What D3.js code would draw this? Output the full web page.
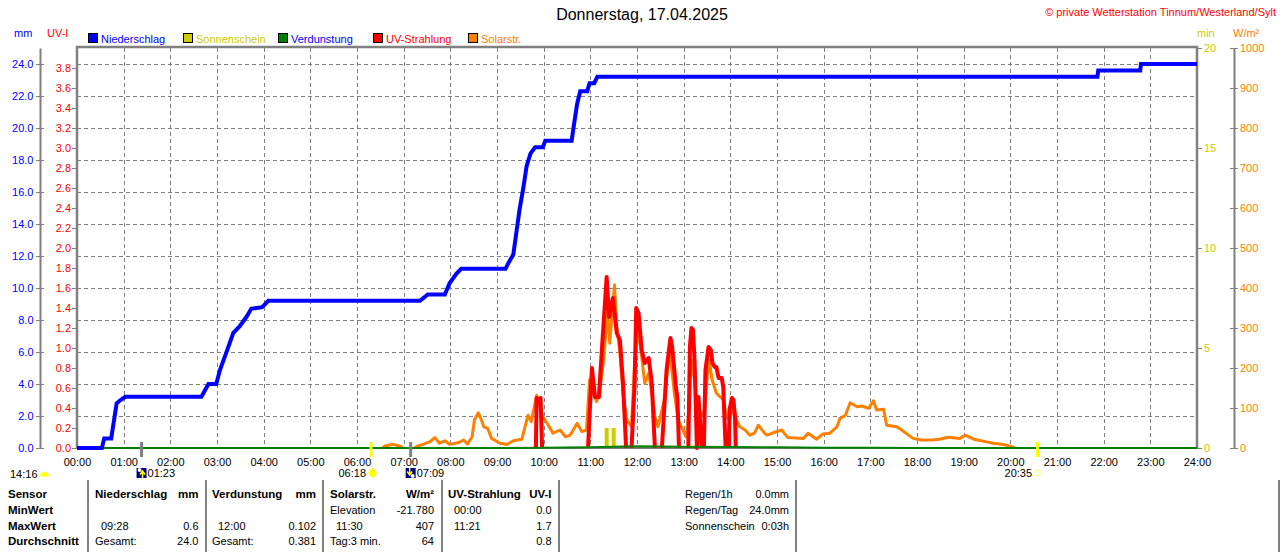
<!DOCTYPE html>
<html>
<head>
<meta charset="utf-8">
<script src="https://cdn.jsdelivr.net/npm/d3@7"></script>
<style>
  body { margin: 0; background: #fff; }
  svg { display: block; }
</style>
</head>
<body>
<svg id="chart" width="1280" height="552"></svg>
<script>
const title = 'Donnerstag, 17.04.2025'
const copyright = '\u00a9 private Wetterstation Tinnum/Westerland/Sylt'

const legendNames = ['Niederschlag', 'Sonnenschein', 'Verdunstung', 'UV-Strahlung', 'Solarstr.']

// cumulative rain, mm
const rainTimes = ['00:00','00:32','00:35','00:44','00:51','00:56','01:02','02:40','02:49','02:59',
  '03:04','03:13','03:21','03:29','03:38','03:44','03:58','04:06','07:21','07:31',
  '07:53','07:59','08:08','08:14','09:11','09:14','09:21','09:25','09:29','09:34',
  '09:38','09:43','09:49','09:59','10:02','10:36','10:38','10:43','10:47','10:56',
  '10:59','11:05','11:09','21:52','21:53','22:47','22:48','24:00']
const rainValues = [0, 0, 0.6, 0.6, 2.8, 3.0, 3.2, 3.2, 4.0, 4.0,
  4.9, 6.1, 7.2, 7.6, 8.2, 8.7, 8.8, 9.2, 9.2, 9.6,
  9.6, 10.3, 10.9, 11.2, 11.2, 11.5, 12.1, 13.5, 14.9, 16.3,
  17.6, 18.4, 18.8, 18.8, 19.2, 19.2, 19.9, 21.5, 22.3, 22.3,
  22.8, 22.8, 23.2, 23.2, 23.6, 23.6, 24.0, 24.0]

// solar radiation, W/m²
const solarTimes = ['06:33','06:36','06:46','06:55','06:59','07:05','07:14','07:18','07:25','07:34',
  '07:40','07:46','07:53','07:59','08:10','08:17','08:22','08:28','08:31','08:36',
  '08:40','08:43','08:48','08:53','09:04','09:13','09:21','09:32','09:36','09:40',
  '09:44','09:51','09:55','09:59','10:06','10:12','10:21','10:28','10:34','10:43',
  '10:49','10:55','10:59','11:04','11:08','11:12','11:17','11:22','11:25','11:31',
  '11:34','11:38','11:42','11:47','11:53','11:57','12:02','12:06','12:10','12:15',
  '12:21','12:23','12:27','12:36','12:41','12:44','12:48','12:53','12:57','13:03',
  '13:06','13:10','13:14','13:18','13:22','13:27','13:31','13:33','13:36','13:42',
  '13:47','13:51','13:55','13:59','14:04','14:08','14:12','14:19','14:25','14:31',
  '14:36','14:44','14:47','14:55','15:06','15:14','15:34','15:40','15:51','15:59',
  '16:08','16:17','16:21','16:28','16:34','16:43','16:49','16:58','17:04','17:08',
  '17:17','17:21','17:34','17:43','17:55','18:06','18:19','18:29','18:40','18:55',
  '19:02','19:13','19:28','19:38','19:51','20:02','20:06']
const solarValues = [0, 5, 9, 5, 0, null, 0, 5, 9, 16,
  26, 12, 18, 9, 13, 20, 10, 28, 70, 88,
  70, 53, 49, 24, 12, 9, 18, 22, 53, 82,
  66, 132, 112, 78, 57, 37, 45, 28, 32, 62,
  41, 45, 170, 137, 116, 137, 220, 337, 262, 408,
  303, 237, 137, 70, 53, 220, 295, 228, 162, 187,
  112, 78, 53, 128, 237, 212, 137, 70, 53, 28,
  78, 220, 170, 78, 78, 95, 195, 220, 175, 137,
  128, 120, 78, 70, 103, 70, 53, 45, 32, 37,
  57, 37, 32, 38, 45, 26, 24, 37, 22, 35,
  37, 53, 74, 82, 113, 103, 105, 99, 118, 95,
  97, 57, 53, 41, 24, 20, 20, 22, 27, 24,
  32, 22, 16, 12, 9, 3, 0]

// UV index, null breaks the line
const uvTimes = ['09:50','09:51','09:54','09:56','09:58','10:30','10:57','11:02','11:06','11:11',
  '11:15','11:21','11:24','11:29','11:34','11:38','11:42','11:46','11:50','11:53',
  '11:57','11:59','12:02','12:06','12:10','12:15','12:19','12:23','12:28','12:32',
  '12:38','12:43','12:45','12:48','12:50','12:52','12:54','13:00','13:06','13:08',
  '13:10','13:12','13:14','13:15','13:17','13:19','13:21','13:23','13:25','13:26',
  '13:28','13:32','13:35','13:37','13:40','13:42','13:45','13:49','13:51','13:52',
  '13:54','13:56','13:58','13:59','14:02','14:04','14:06','14:07']
const uvValues = [0, 0.5, 0.45, 0.5, 0, null, 0, 0.8, 0.51, 0.51,
  1.0, 1.71, 1.31, 1.5, 1.15, 1.08, 0.65, 0, null, 0,
  0.65, 1.4, 1.35, 0.98, 0.85, 0.9, 0.65, 0, null, 0,
  0.78, 1.1, 1.02, 0.78, 0.61, 0.5, 0, null, 0, 1.01,
  1.2, 1.18, 0.88, 0.6, 0, 0.51, 0.28, 0, null, 0,
  0.78, 1.01, 0.98, 0.85, 0.81, 0.81, 0.7, 0.7, 0.6, 0.38,
  0, null, 0, 0.38, 0.5, 0.48, 0.31, 0]

// sunshine, minutes
const sunTimes = ['11:21', '11:30']
const sunValues = [1, 1]

// evaporation, mm
const evapTimes = ['00:00','09:00','10:00','11:00','12:00','13:00','14:00','15:00','16:00','17:00','18:00','24:00']
const evapValues = [0, 0, 0.02, 0.04, 0.102, 0.08, 0.06, 0.04, 0.02, 0.019, 0, 0]

const hourTicks = d3.range(0, 25)
const mmTicks = d3.range(0, 13).map(i => i * 2)
const uvTicks = d3.range(0, 20).map(i => i / 5)
const minTicks = [0, 5, 10, 15, 20]
const solarTicks = d3.range(0, 11).map(i => i * 100)

const markerTimes = ['01:23', '06:18', '07:09', '20:35']
const markerKinds = ['moonrise', 'sunrise', 'moonset', 'sunset']
const moonTime = '14:16'

const sensorRows = ['MinWert', 'MaxWert', 'Durchschnitt']
const rainStats = [['', ''], ['09:28', '0.6'], ['Gesamt:', '24.0']]
const evapStats = [['', ''], ['12:00', '0.102'], ['Gesamt:', '0.381']]
const solarStats = [['Elevation', '-21.780'], ['11:30', '407'], ['Tag:3 min.', '64']]
const uvStats = [['00:00', '0.0'], ['11:21', '1.7'], ['', '0.8']]
const summaryLabels = ['Regen/1h', 'Regen/Tag', 'Sonnenschein']
const summaryValues = ['0.0mm', '24.0mm', '0:03h']

const col = {
  rain: '#0000ff', sun: '#cccc00', evap: '#008000', uv: '#ff0000', solar: '#ff8000',
  grid: '#808080', frame: '#808080'
}
const legendColors = [col.rain, col.sun, col.evap, col.uv, col.solar]
const legendTextColors = [col.rain, col.sun, col.rain, col.uv, col.solar]
const font = '"Liberation Sans", Arial, sans-serif'

const parseTime = s => { const [h, m] = s.split(':').map(Number); return h + m / 60 }
const series = (times, values) => times.map((t, i) => ({ t: parseTime(t), v: values[i] }))

const svg = d3.select('#chart')
  .attr('font-family', font)
  .attr('font-size', 11)

const x = d3.scaleLinear().domain([0, 24]).range([77, 1197])
const yMm = d3.scaleLinear().domain([0, 25]).range([448, 48])
const yUv = d3.scaleLinear().domain([0, 4]).range([448, 48])
const yMin = d3.scaleLinear().domain([0, 20]).range([448, 48])
const ySolar = d3.scaleLinear().domain([0, 1000]).range([448, 48])

// title
svg.append('text').attr('x', 642).attr('y', 20).attr('text-anchor', 'middle')
  .attr('font-size', 16).text(title)
svg.append('text').attr('x', 1276).attr('y', 16).attr('text-anchor', 'end')
  .attr('fill', '#ff0000').attr('font-size', 11).text(copyright)

// unit labels
svg.append('text').attr('x', 14).attr('y', 37).attr('fill', col.rain).text('mm')
svg.append('text').attr('x', 47).attr('y', 37).attr('fill', col.uv).text('UV-I')
svg.append('text').attr('x', 1197).attr('y', 37).attr('fill', col.sun).text('min')
svg.append('text').attr('x', 1233).attr('y', 37).attr('fill', col.solar).text('W/m²')

// legend
const legendX = [88, 183, 278, 373, 468]
const lg = svg.append('g').selectAll('g').data(legendNames).join('g')
  .attr('transform', (d, i) => `translate(${legendX[i]},33)`)
lg.append('rect').attr('x', 0.5).attr('y', 0.5).attr('width', 9).attr('height', 9)
  .attr('fill', (d, i) => legendColors[i]).attr('stroke', '#000')
lg.append('text').attr('x', 13).attr('y', 9.5).attr('fill', (d, i) => legendTextColors[i]).text(d => d)

// grid
const grid = svg.append('g').attr('stroke', col.grid).attr('stroke-dasharray', '4,3').attr('stroke-width', 1)
grid.selectAll('.vg').data(hourTicks.slice(1, -1)).join('line')
  .attr('x1', d => Math.round(x(d)) + 0.5).attr('x2', d => Math.round(x(d)) + 0.5)
  .attr('y1', 48).attr('y2', 448)
grid.selectAll('.hg').data(mmTicks.slice(1)).join('line')
  .attr('x1', 77).attr('x2', 1197)
  .attr('y1', d => Math.round(yMm(d)) + 0.5).attr('y2', d => Math.round(yMm(d)) + 0.5)

// frame
svg.append('path').attr('d', `M${x(0)},448V47H${x(24)}V448`)
  .attr('fill', 'none').attr('stroke', col.frame).attr('stroke-width', 2.5)
svg.append('line').attr('x1', x(0)).attr('x2', x(24)).attr('y1', 448).attr('y2', 448)
  .attr('stroke', col.frame).attr('stroke-width', 2)

const lineOf = yScale => d3.line().defined(d => d.v != null).x(d => x(d.t)).y(d => yScale(d.v))

// solar
svg.append('path').datum(series(solarTimes, solarValues))
  .attr('d', lineOf(ySolar)).attr('fill', 'none').attr('stroke', col.solar)
  .attr('stroke-width', 3).attr('stroke-linejoin', 'round')

// UV
svg.append('path').datum(series(uvTimes, uvValues))
  .attr('d', lineOf(yUv)).attr('fill', 'none').attr('stroke', col.uv)
  .attr('stroke-width', 4).attr('stroke-linejoin', 'round')

// sunshine bars
svg.append('g').selectAll('rect').data(series(sunTimes, sunValues)).join('rect')
  .attr('x', d => x(d.t) - 2).attr('width', 4)
  .attr('y', d => yMin(d.v)).attr('height', d => yMin(0) - yMin(d.v) - 1)
  .attr('fill', col.sun)

// evaporation
svg.append('path').datum(series(evapTimes, evapValues))
  .attr('d', lineOf(yMm)).attr('fill', 'none').attr('stroke', col.evap).attr('stroke-width', 2)

// rain
svg.append('path').datum(series(rainTimes, rainValues))
  .attr('d', lineOf(yMm)).attr('fill', 'none').attr('stroke', col.rain)
  .attr('stroke-width', 4).attr('stroke-linejoin', 'miter')

// axes
const styleAxis = (g, textColor) => {
  g.attr('font-family', font).attr('font-size', 11)
  g.selectAll('.tick line').attr('stroke', col.frame)
  g.selectAll('.tick text').attr('fill', textColor)
}

svg.append('g').attr('transform', 'translate(40,0)')
  .call(d3.axisLeft(yMm).tickValues(mmTicks).tickFormat(d3.format('.1f'))
    .tickSizeInner(4).tickSizeOuter(0).tickPadding(2.5))
  .call(g => styleAxis(g, col.rain))
  .call(g => g.select('.domain').attr('stroke', col.frame).attr('stroke-width', 2))
  .call(g => g.selectAll('.tick line').attr('x1', 4))

svg.append('g').attr('transform', `translate(${x(0)},0)`)
  .call(d3.axisLeft(yUv).tickValues(uvTicks).tickFormat(d3.format('.1f'))
    .tickSizeInner(5).tickSizeOuter(0).tickPadding(1))
  .call(g => styleAxis(g, col.uv))
  .call(g => g.select('.domain').remove())

svg.append('g').attr('transform', `translate(${x(24)},0)`)
  .call(d3.axisRight(yMin).tickValues(minTicks).tickSizeInner(5).tickSizeOuter(0).tickPadding(2))
  .call(g => styleAxis(g, col.sun))
  .call(g => g.select('.domain').remove())

svg.append('g').attr('transform', 'translate(1234,0)')
  .call(d3.axisRight(ySolar).tickValues(solarTicks).tickFormat(d3.format('d'))
    .tickSizeInner(4).tickSizeOuter(0).tickPadding(2))
  .call(g => styleAxis(g, col.solar))
  .call(g => g.select('.domain').attr('stroke', col.frame).attr('stroke-width', 2))
  .call(g => g.selectAll('.tick line').attr('x1', -4))

svg.append('g').attr('transform', 'translate(0,448)')
  .call(d3.axisBottom(x).tickValues(hourTicks).tickFormat(d => String(d).padStart(2, '0') + ':00')
    .tickSize(0).tickPadding(10.5))
  .call(g => styleAxis(g, '#000'))
  .call(g => g.select('.domain').remove())

// sun / moon markers
const markers = svg.append('g')
markerTimes.forEach((s, i) => {
  const kind = markerKinds[i]
  const px = x(parseTime(s))
  const isSun = kind.startsWith('sun')
  markers.append('rect').attr('x', px - 1.5).attr('y', 442).attr('width', 3).attr('height', 15)
    .attr('fill', isSun ? '#ffff00' : col.frame)
  const g = markers.append('g').attr('transform', `translate(${px},473)`)
  if (kind === 'moonrise' || kind === 'moonset') {
    g.append('rect').attr('x', -5).attr('y', -5).attr('width', 10).attr('height', 10).attr('fill', '#000080')
    g.append('circle').attr('cx', kind === 'moonrise' ? -2 : 2).attr('cy', kind === 'moonrise' ? -3 : 3)
      .attr('r', 2).attr('fill', '#fff')
    const arrow = kind === 'moonrise' ? 'M1,5V-1M-1.5,1.5L1,-2L3.5,1.5' : 'M-1,-5V1M-3.5,-1.5L-1,2L1.5,-1.5'
    g.append('path').attr('d', arrow).attr('fill', 'none').attr('stroke', '#ffff00').attr('stroke-width', 1.5)
    g.append('text').attr('x', 6).attr('y', 4).text(s)
  } else if (kind === 'sunrise') {
    g.attr('transform', `translate(${px + 1.5},473)`)
    g.append('g').selectAll('line').data(d3.range(8)).join('line')
      .attr('x1', a => Math.cos(a * Math.PI / 4) * 2.5).attr('y1', a => Math.sin(a * Math.PI / 4) * 2.5)
      .attr('x2', a => Math.cos(a * Math.PI / 4) * 5).attr('y2', a => Math.sin(a * Math.PI / 4) * 5)
      .attr('stroke', '#ffff00').attr('stroke-width', 1.2)
    g.append('circle').attr('r', 3.2).attr('fill', '#ffff00')
    g.append('text').attr('x', -6.5).attr('y', 4).attr('text-anchor', 'end').text(s)
  } else {
    g.append('rect').attr('x', -2.5).attr('y', -2.5).attr('width', 5).attr('height', 5)
      .attr('fill', 'none').attr('stroke', '#ffff66').attr('stroke-width', 1)
    g.append('text').attr('x', -5.5).attr('y', 4).attr('text-anchor', 'end').text(s)
  }
})
svg.append('text').attr('x', 10).attr('y', 478).text(moonTime)
svg.append('path').attr('d', 'M40,476.5A4.5,4.5 0 0 1 49,476.5Z').attr('fill', '#ffff00')

// table
const sep = svg.append('g').attr('stroke', col.frame).attr('stroke-width', 2)
;[88, 206, 323, 442, 559, 796, 1279].forEach(sx => {
  sep.append('line').attr('x1', sx).attr('x2', sx).attr('y1', 480).attr('y2', 552)
})
const rowY = [514, 530, 545]
const bold = 11.5
const table = svg.append('g')
table.append('text').attr('x', 8).attr('y', 497.5).attr('font-weight', 'bold').attr('font-size', bold).text('Sensor')
sensorRows.forEach((r, i) => {
  table.append('text').attr('x', 8).attr('y', rowY[i]).attr('font-weight', 'bold').attr('font-size', bold).text(r)
})
const columns = [
  { head: 'Niederschlag', unit: 'mm', stats: rainStats, x0: 95, x1: 198.5 },
  { head: 'Verdunstung', unit: 'mm', stats: evapStats, x0: 212, x1: 316 },
  { head: 'Solarstr.', unit: 'W/m²', stats: solarStats, x0: 330, x1: 434 },
  { head: 'UV-Strahlung', unit: 'UV-I', stats: uvStats, x0: 448, x1: 551.5 }
]
columns.forEach(c => {
  table.append('text').attr('x', c.x0).attr('y', 497.5).attr('font-weight', 'bold').attr('font-size', bold).text(c.head)
  table.append('text').attr('x', c.x1).attr('y', 497.5).attr('text-anchor', 'end')
    .attr('font-weight', 'bold').attr('font-size', bold).text(c.unit)
  c.stats.forEach((s, i) => {
    const indent = /^\d/.test(s[0]) ? 6 : 0
    table.append('text').attr('x', c.x0 + indent).attr('y', rowY[i]).text(s[0])
    table.append('text').attr('x', c.x1).attr('y', rowY[i]).attr('text-anchor', 'end').text(s[1])
  })
})
const sumY = [497.5, 514, 530]
summaryLabels.forEach((s, i) => {
  table.append('text').attr('x', 685).attr('y', sumY[i]).text(s)
  table.append('text').attr('x', 789).attr('y', sumY[i]).attr('text-anchor', 'end').text(summaryValues[i])
})
</script>
</body>
</html>
